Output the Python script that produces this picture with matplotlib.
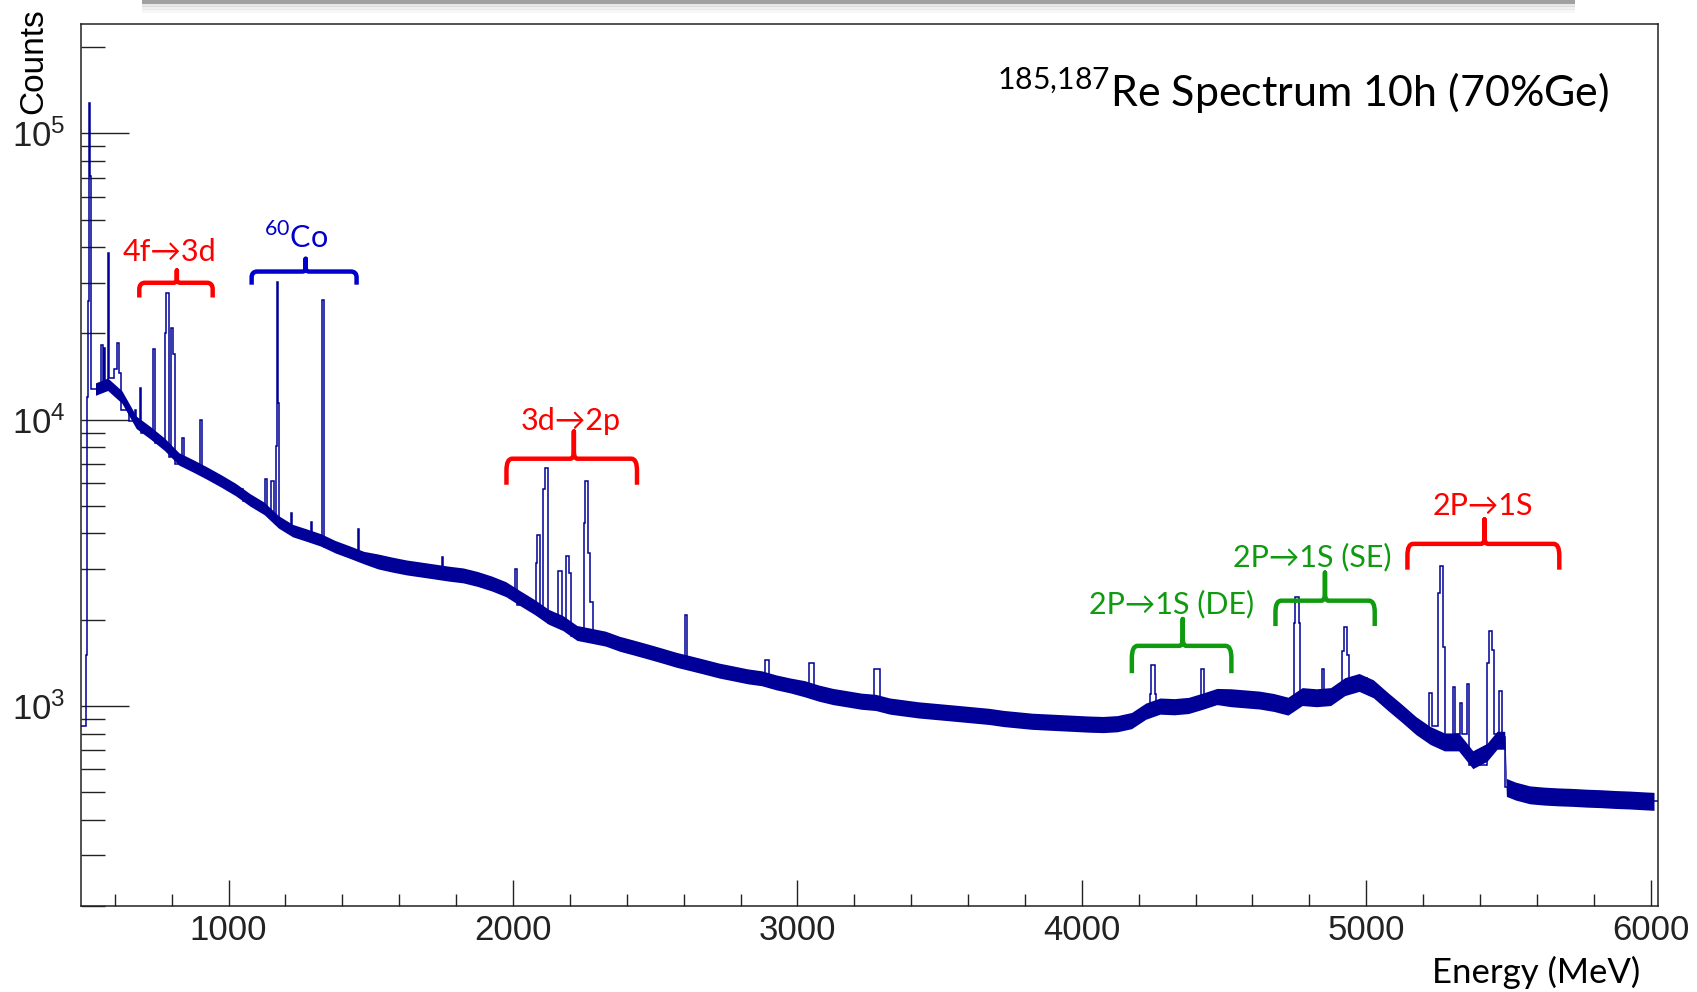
import numpy as np
import matplotlib
matplotlib.use('Agg')
from matplotlib import pyplot as plt
from matplotlib.path import Path
from matplotlib.patches import PathPatch, Rectangle
from matplotlib.ticker import LogLocator, MultipleLocator, NullFormatter, LogFormatterSciNotation

# histogram outline: bin edges (keV) and counts per bin
line_edges = [
	481, 497, 502, 505, 509, 512, 515, 552, 558, 562, 567, 575, 579, 598, 608, 614, 620, 650,
	672, 676, 689, 693, 735, 741, 775, 779, 790, 798, 806, 811, 836, 843, 898, 906, 950,
	1000, 1050, 1100, 1128, 1134, 1150, 1158, 1166, 1169, 1173, 1177, 1218, 1222, 1290, 1294,
	1327, 1335, 1400, 1455, 1460,
	1500, 1600, 1700, 1750, 1755, 1850, 1950, 2008, 2014, 2080, 2086, 2095, 2106, 2113, 2123,
	2158, 2171, 2188, 2197, 2204, 2250, 2254, 2264, 2270, 2282, 2330, 2400, 2500, 2604, 2611,
	2700, 2800, 2885, 2900, 3040, 3058, 3150, 3270, 3290, 3400, 3550, 3700, 3850, 4000, 4150,
	4200, 4240, 4245, 4257, 4262, 4418, 4428, 4500, 4600, 4690, 4745, 4750, 4762, 4768, 4845,
	4852, 4915, 4921, 4931, 4940, 5003, 5050, 5100, 5150, 5200, 5222, 5230, 5252, 5258, 5270,
	5276, 5305, 5314, 5330, 5336, 5356, 5363, 5425, 5432, 5442, 5448, 5468, 5476, 5489, 5520,
	5700, 5900,
	6025]
line_counts = [
	850, 1500, 12000, 26000, 128000, 71000, 12800, 18200, 13000, 17800, 13500, 38200, 14000, 15000,
	18500, 14500, 10800, 9900, 10800, 9600, 12900, 9000, 17600, 8300, 20000, 27700, 7400, 20900,
	17000, 7000, 8600, 6900, 10000, 6500, 6100,
	5700, 5200, 4900, 6200, 4800, 6100, 4600, 8100, 30300, 11400, 4200, 4700, 3950, 4400, 3850,
	26100, 3600, 3420, 4140, 3300,
	3150, 3020, 2950, 3300, 2880, 2720, 2500, 3000, 2250, 3150, 3960, 2100, 5700, 6770, 1950,
	2950, 1900, 3340, 2900, 1750, 4350, 6120, 3420, 2300, 1750, 1650, 1570, 1470, 2080, 1380,
	1310, 1260, 1450, 1170, 1410, 1090, 1040, 1340, 990, 960, 930, 890, 870, 865, 900,
	970, 1100, 1390, 1100, 1000, 1340, 1080, 1060, 1040, 990, 1940, 2400, 1940, 1070, 1340,
	1080, 1550, 1890, 1500, 1250, 1130, 1030, 940, 850, 770, 1110, 850, 2480, 3090, 1600,
	720, 1160, 800, 1020, 800, 1190, 620, 1410, 1830, 1570, 800, 1130, 780, 520, 485,
	475, 465]

# statistical noise band of the continuum: middle of the band at ~50 keV steps
band_energy = np.r_[532, np.arange(575, 5426, 50), 5460, 5487, 5493, 5525,
	np.arange(5575, 5976, 50), 6012]
band_mid = [
	12800, 13300, 12000, 9800, 9000, 8200, 7300, 6900, 6500, 6100,
	5700, 5250, 4900, 4400, 4100, 3950, 3800, 3600, 3450, 3300,
	3200, 3120, 3050, 3000, 2950, 2900, 2860, 2780, 2680, 2560,
	2380, 2220, 2050, 1950, 1800, 1760, 1720, 1650, 1600, 1550,
	1500, 1450, 1410, 1370, 1330, 1300, 1270, 1250, 1210, 1180,
	1150, 1110, 1080, 1060, 1040, 1030, 1000, 985, 970, 960,
	950, 940, 930, 920, 905, 895, 885, 880, 875, 870,
	865, 862, 868, 890, 960, 1000, 995, 1005, 1040, 1080,
	1070, 1060, 1050, 1030, 1000, 1080, 1070, 1080, 1170, 1210,
	1150, 1040, 945, 855, 790, 750, 750, 650, 690,
	760, 760, 520, 505,
	490, 485, 482, 480, 477, 475, 472, 470, 467, 465]
# relative half thickness of the band, by energy range
spread_edges = [515, 1500, 3000, 4500, 6025]
spread_frac = [0.05, 0.06, 0.065, 0.072]

# annotation braces: left, right, tip energy; counts at the ends, the bar and the tip
braces = {
	'4f': (686, 944, 818, 26700, 30060, 33200),
	'co': (1081, 1450, 1271, 29600, 32900, 36450),
	'3d': (1977, 2436, 2214, 5920, 7300, 9090),
	'de': (4176, 4526, 4355, 1300, 1620, 2010),
	'se': (4681, 5030, 4855, 1900, 2330, 2920),
	'1s': (5145, 5679, 5416, 2990, 3680, 4480),
}
labels = [
	('4f', '4f\u21923d', 794, 35900),
	('co', r'$^{\mathdefault{60}}$Co', 1238, 39800),
	('3d', '3d\u21922p', 2203, 9210),
	('de', '2P\u21921S (DE)', 4316, 2100),
	('se', '2P\u21921S (SE)', 4811, 3070),
	('1s', '2P\u21921S', 5411, 4650),
]
colors = {'4f': '#ff0000', '3d': '#ff0000', '1s': '#ff0000',
	'co': '#0000cc', 'de': '#109a10', 'se': '#109a10'}

navy = '#000099'
label_font = ['Lato', 'DejaVu Sans']

plt.rcParams['font.family'] = ['Liberation Sans', 'DejaVu Sans']


def draw_brace(ax, x0, x1, xt, y_end, y_bar, y_tip, color):
	r = 20  # corner rounding, keV
	t = 12  # half width of the tip foot, keV
	lb, le, lt = np.log10(y_bar), np.log10(y_end), np.log10(y_tip)
	y_c = 10 ** (lb - 0.45 * (lb - le))
	y_m = 10 ** (lb + 0.3 * (lt - lb))
	verts = [(x0, y_end), (x0, y_c), (x0, y_bar), (x0 + r, y_bar),
		(xt - t, y_bar), (xt, y_bar), (xt, y_m), (xt, y_tip), (xt, y_m),
		(xt, y_bar), (xt + t, y_bar),
		(x1 - r, y_bar), (x1, y_bar), (x1, y_c), (x1, y_end)]
	codes = [Path.MOVETO, Path.LINETO, Path.CURVE3, Path.CURVE3,
		Path.LINETO, Path.CURVE3, Path.CURVE3, Path.LINETO, Path.LINETO,
		Path.CURVE3, Path.CURVE3,
		Path.LINETO, Path.CURVE3, Path.CURVE3, Path.LINETO]
	patch = PathPatch(Path(verts, codes), fill=False, edgecolor=color, lw=3.2,
		capstyle='butt', joinstyle='round', transform=ax.transData, zorder=4)
	ax.add_patch(patch)


fig = plt.figure(figsize=(16.97, 9.92), dpi=100)
ax = fig.add_axes([81 / 1697, 1 - 905.9 / 992, 1576.7 / 1697, 881.9 / 992])

band_mid = np.array(band_mid, dtype=float)
frac = np.array(spread_frac)[np.searchsorted(spread_edges, band_energy) - 1]
ax.fill_between(band_energy, band_mid * (1 - frac), band_mid * (1 + frac),
	color=navy, lw=0, zorder=2)
ax.stairs(line_counts, line_edges, baseline=None, color=navy, lw=1.1, zorder=3)

ax.set_yscale('log')
ax.set_xlim(481, 6025)
ax.set_ylim(200, 2.41e5)

ax.xaxis.set_major_locator(MultipleLocator(1000))
ax.xaxis.set_minor_locator(MultipleLocator(200))
ax.yaxis.set_major_locator(LogLocator(base=10))
ax.yaxis.set_minor_locator(LogLocator(base=10, subs=np.arange(2, 10)))
ax.yaxis.set_major_formatter(LogFormatterSciNotation())
ax.yaxis.set_minor_formatter(NullFormatter())

ax.tick_params(axis='both', which='both', direction='in', width=1.0, colors='#222222')
ax.tick_params(axis='y', which='major', length=34.5, labelsize=25, pad=11)
ax.tick_params(axis='y', which='minor', length=17.3)
ax.tick_params(axis='x', which='major', length=18.7, labelsize=25, pad=6)
ax.tick_params(axis='x', which='minor', length=9)
for s in ax.spines.values():
	s.set_linewidth(1.1)
	s.set_color('#222222')

for key, (x0, x1, xt, y_end, y_bar, y_tip) in braces.items():
	draw_brace(ax, x0, x1, xt, y_end, y_bar, y_tip, colors[key])
for key, txt, x, y in labels:
	ax.text(x, y, txt, color=colors[key], ha='center', va='baseline',
		fontsize=22, family=label_font, zorder=5)

ax.text(0.7749, 0.9059, r'$^{\mathdefault{185{,}187}}$Re Spectrum 10h (70%Ge)',
	transform=ax.transAxes, ha='center', va='baseline', fontsize=31, family=label_font)

fig.text(34 / 1697, 1 - 8 / 992, 'Counts', rotation=90, ha='center', va='top', fontsize=24)
fig.text(1640 / 1697, 1 - 983 / 992, 'Energy (MeV)', ha='right', va='baseline',
	fontsize=25, family=label_font)

# grey frame edge left over at the top of the slide
fig.patches.append(Rectangle((141.7 / 1697, 1 - 3.5 / 992), (1575 - 141.7) / 1697, 3.5 / 992,
	transform=fig.transFigure, color='#a0a0a0', lw=0))
for i, a in enumerate([0.25, 0.15, 0.08]):
	fig.patches.append(Rectangle((141.7 / 1697, 1 - (3.5 + 3 * (i + 1)) / 992), (1575 - 141.7) / 1697,
		3 / 992, transform=fig.transFigure, color='#a0a0a0', alpha=a, lw=0))

fig.savefig('out.png', dpi=100)
